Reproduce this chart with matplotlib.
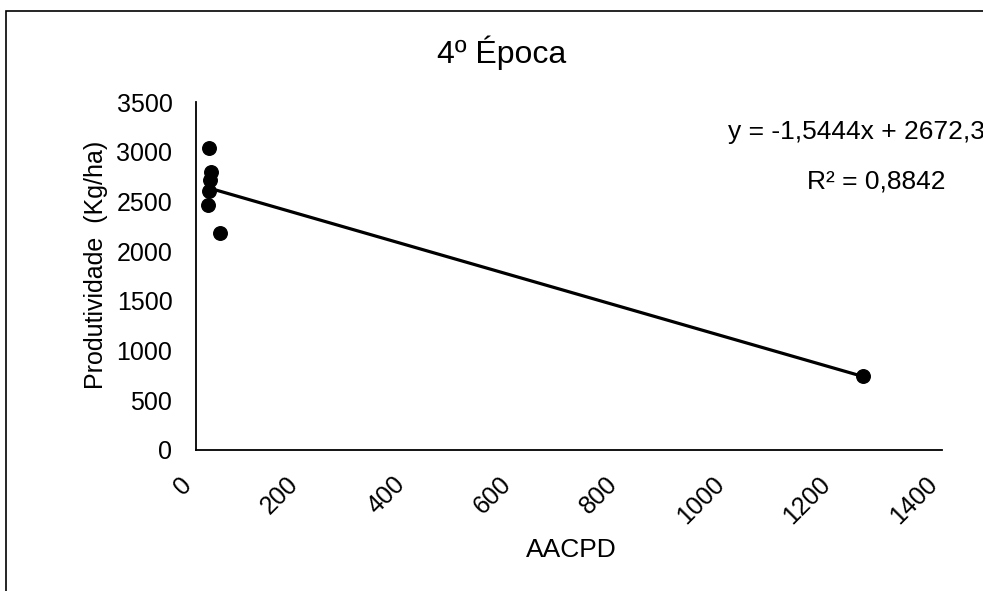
import matplotlib
matplotlib.use("Agg")
import matplotlib.pyplot as plt
from matplotlib.patches import Rectangle
import numpy as np

# data
aacpd = [24, 28, 26, 24, 22, 45, 1251]
produtividade = [3038, 2797, 2716, 2606, 2465, 2183, 747]
slope = -1.5444
intercept = 2672.3

x_ticks = [0, 200, 400, 600, 800, 1000, 1200, 1400]
y_ticks = [0, 500, 1000, 1500, 2000, 2500, 3000, 3500]

plt.rcParams["font.family"] = ["Liberation Sans", "DejaVu Sans"]

fig = plt.figure(figsize=(9.83, 5.91), dpi=100)
ax = fig.add_axes([0.1994, 0.2386, 0.9583 - 0.1994, 0.8274 - 0.2386])

ax.scatter(aacpd, produtividade, s=95, color="black", zorder=3)
xs = np.array([min(aacpd), max(aacpd)])
ax.plot(xs, slope * xs + intercept, color="black", linewidth=2.3, zorder=2)

ax.set_xlim(0, 1400)
ax.set_ylim(0, 3500)
ax.set_xticks(x_ticks)
ax.set_yticks(y_ticks)
ax.set_xticklabels([str(v) for v in x_ticks], rotation=45, ha="right", va="top")
ax.tick_params(axis="x", length=0, pad=16, labelsize=18)
ax.tick_params(axis="y", length=0, pad=17, labelsize=18)
for side in ("top", "right"):
    ax.spines[side].set_visible(False)
for side in ("left", "bottom"):
    ax.spines[side].set_linewidth(1.3)
    ax.spines[side].set_color("black")

fig.text(502 / 983, 1 - 53 / 591, "4º Época", ha="center", va="center",
         fontsize=23)
fig.text(96 / 983, 1 - 265 / 591, "Produtividade  (Kg/ha)", rotation=90,
         ha="center", va="center", fontsize=18)
fig.text(571 / 983, 1 - 550 / 591, "AACPD", ha="center", va="center",
         fontsize=19)
fig.text(728 / 983, 1 - 139 / 591, "y = -1,5444x + 2672,3", ha="left",
         va="baseline", fontsize=19)
fig.text(807 / 983, 1 - 188 / 591, "R² = 0,8842", ha="left", va="baseline",
         fontsize=19)

# outer chart frame (cut off at right and bottom in the reference)
fig.patches.append(Rectangle((6 / 983, -0.5), 2, 0.5 + 1 - 11 / 591,
                             transform=fig.transFigure, fill=False,
                             edgecolor="black", linewidth=1.2))

fig.savefig("out.png", dpi=100)
